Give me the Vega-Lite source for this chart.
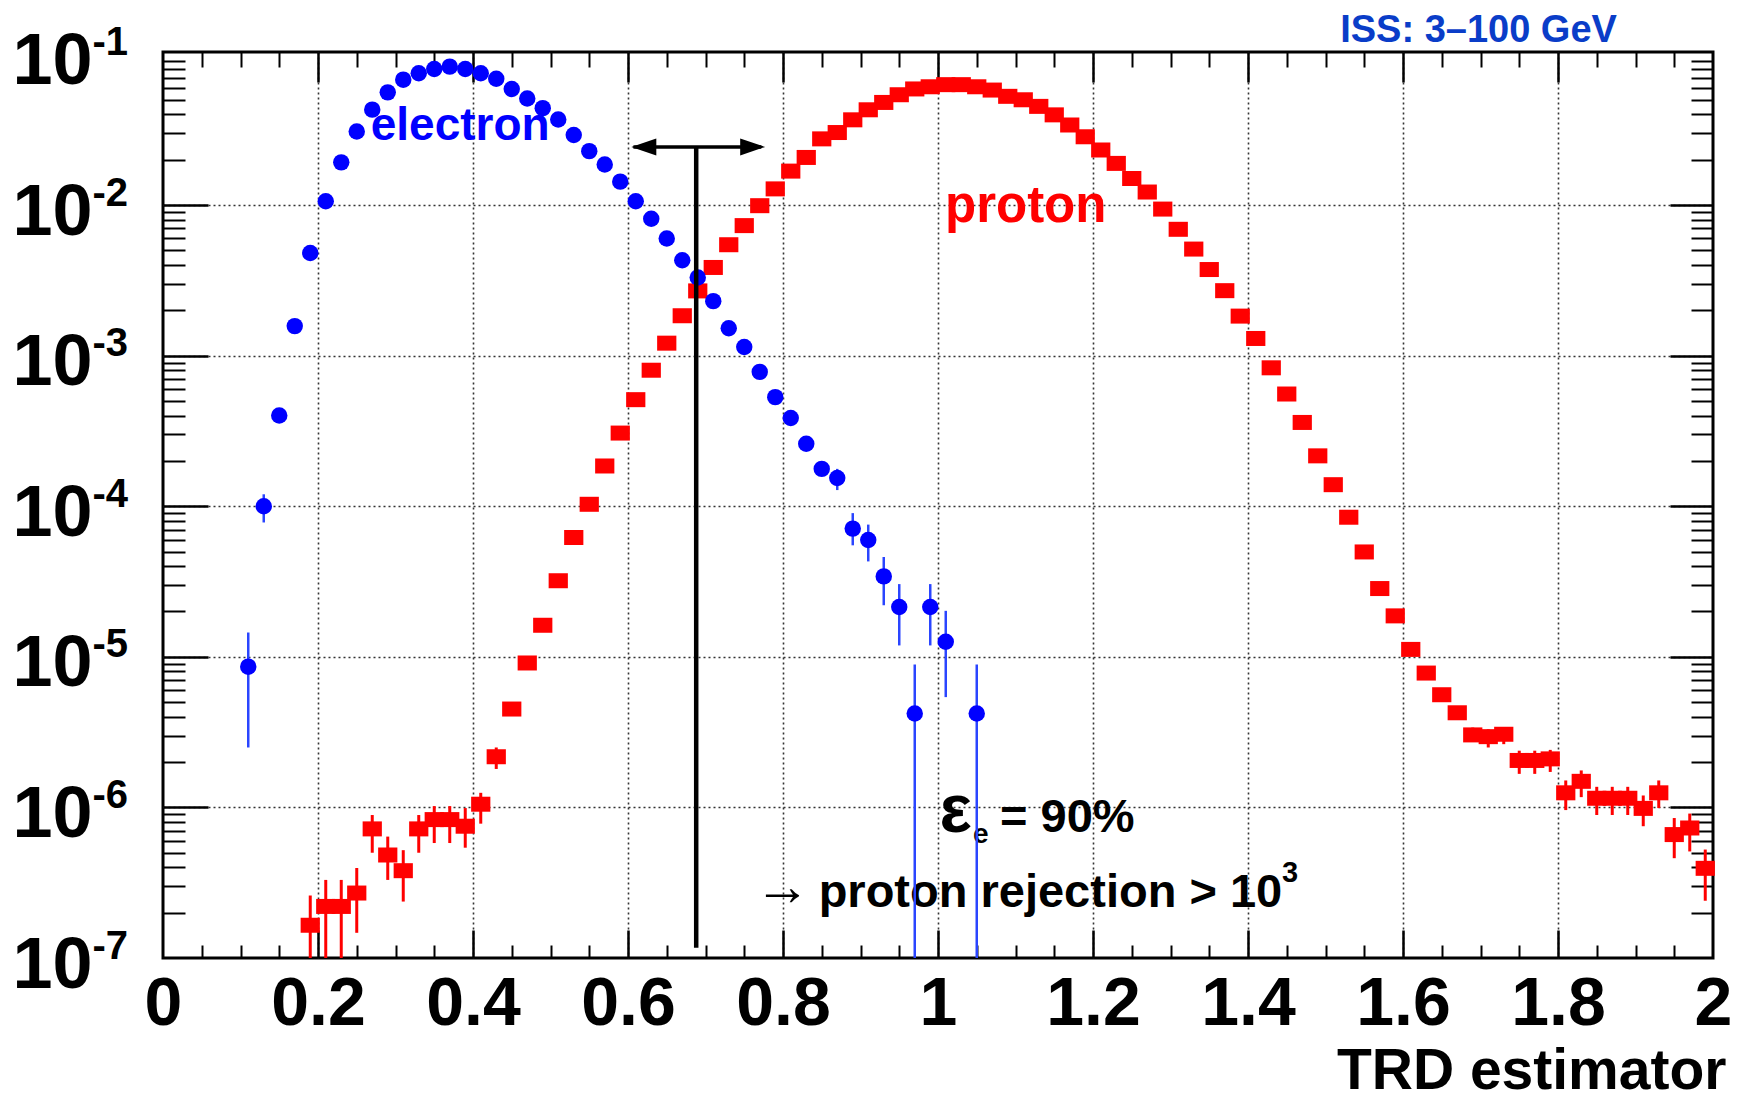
{
  "$schema": "https://vega.github.io/schema/vega-lite/v6.json",
  "width": 1550,
  "height": 906,
  "autosize": {"type": "none"},
  "padding": {"left": 163, "top": 52, "right": 24, "bottom": 143},
  "background": "white",
  "config": {
    "view": {"stroke": "black", "strokeWidth": 3},
    "font": "Liberation Sans",
    "axis": {"domain": false, "labelFont": "Liberation Sans", "titleFont": "Liberation Sans", "tickColor": "black", "tickWidth": 2.5, "tickCap": "butt", "grid": false}
  },
  "datasets": {
    "electron": [
      {"x": 0.11, "y": 8.6e-6, "lo": 2.5e-6, "hi": 1.45e-5},
      {"x": 0.13, "y": 1.0e-4, "lo": 7.8e-5, "hi": 1.2e-4},
      {"x": 0.15, "y": 4.0e-4},
      {"x": 0.17, "y": 1.57e-3},
      {"x": 0.19, "y": 4.8e-3},
      {"x": 0.21, "y": 1.06e-2},
      {"x": 0.23, "y": 1.92e-2},
      {"x": 0.25, "y": 3.08e-2},
      {"x": 0.27, "y": 4.3e-2},
      {"x": 0.29, "y": 5.6e-2},
      {"x": 0.31, "y": 6.8e-2},
      {"x": 0.33, "y": 7.5e-2},
      {"x": 0.35, "y": 8.0e-2},
      {"x": 0.37, "y": 8.3e-2},
      {"x": 0.39, "y": 8.0e-2},
      {"x": 0.41, "y": 7.5e-2},
      {"x": 0.43, "y": 6.9e-2},
      {"x": 0.45, "y": 5.9e-2},
      {"x": 0.47, "y": 5.1e-2},
      {"x": 0.49, "y": 4.4e-2},
      {"x": 0.51, "y": 3.7e-2},
      {"x": 0.53, "y": 2.92e-2},
      {"x": 0.55, "y": 2.28e-2},
      {"x": 0.57, "y": 1.86e-2},
      {"x": 0.59, "y": 1.43e-2},
      {"x": 0.61, "y": 1.06e-2},
      {"x": 0.63, "y": 8.1e-3},
      {"x": 0.65, "y": 6.0e-3},
      {"x": 0.67, "y": 4.3e-3},
      {"x": 0.69, "y": 3.3e-3},
      {"x": 0.71, "y": 2.3e-3},
      {"x": 0.73, "y": 1.52e-3},
      {"x": 0.75, "y": 1.14e-3},
      {"x": 0.77, "y": 7.8e-4},
      {"x": 0.79, "y": 5.3e-4},
      {"x": 0.81, "y": 3.85e-4},
      {"x": 0.83, "y": 2.6e-4},
      {"x": 0.85, "y": 1.77e-4},
      {"x": 0.87, "y": 1.54e-4, "lo": 1.28e-4, "hi": 1.77e-4},
      {"x": 0.89, "y": 7.1e-5, "lo": 5.5e-5, "hi": 9.0e-5},
      {"x": 0.91, "y": 5.97e-5, "lo": 4.3e-5, "hi": 7.55e-5},
      {"x": 0.93, "y": 3.42e-5, "lo": 2.2e-5, "hi": 4.6e-5},
      {"x": 0.95, "y": 2.14e-5, "lo": 1.19e-5, "hi": 3.04e-5},
      {"x": 0.97, "y": 4.2e-6, "lo": 1e-7, "hi": 8.9e-6},
      {"x": 0.99, "y": 2.14e-5, "lo": 1.19e-5, "hi": 3.04e-5},
      {"x": 1.01, "y": 1.26e-5, "lo": 5.4e-6, "hi": 2.02e-5},
      {"x": 1.05, "y": 4.2e-6, "lo": 1e-7, "hi": 8.9e-6}
    ],
    "proton": [
      {"x": 0.19, "y": 1.65e-7, "lo": 1e-7, "hi": 2.6e-7},
      {"x": 0.21, "y": 2.2e-7, "lo": 1e-7, "hi": 3.3e-7},
      {"x": 0.23, "y": 2.2e-7, "lo": 1e-7, "hi": 3.3e-7},
      {"x": 0.25, "y": 2.7e-7, "lo": 1.47e-7, "hi": 3.96e-7},
      {"x": 0.27, "y": 7.2e-7, "lo": 5.0e-7, "hi": 8.9e-7},
      {"x": 0.29, "y": 4.83e-7, "lo": 3.3e-7, "hi": 6.4e-7},
      {"x": 0.31, "y": 3.8e-7, "lo": 2.37e-7, "hi": 5.2e-7},
      {"x": 0.33, "y": 7.2e-7, "lo": 5.0e-7, "hi": 8.9e-7},
      {"x": 0.35, "y": 8.3e-7, "lo": 5.8e-7, "hi": 1.02e-6},
      {"x": 0.37, "y": 8.3e-7, "lo": 5.8e-7, "hi": 1.02e-6},
      {"x": 0.39, "y": 7.5e-7, "lo": 5.4e-7, "hi": 9.9e-7},
      {"x": 0.41, "y": 1.05e-6, "lo": 7.8e-7, "hi": 1.25e-6},
      {"x": 0.43, "y": 2.17e-6, "lo": 1.8e-6, "hi": 2.5e-6},
      {"x": 0.45, "y": 4.5e-6},
      {"x": 0.47, "y": 9.1e-6},
      {"x": 0.49, "y": 1.62e-5},
      {"x": 0.51, "y": 3.2e-5},
      {"x": 0.53, "y": 6.2e-5},
      {"x": 0.55, "y": 1.03e-4},
      {"x": 0.57, "y": 1.85e-4},
      {"x": 0.59, "y": 3.06e-4},
      {"x": 0.61, "y": 5.1e-4},
      {"x": 0.63, "y": 8.0e-4},
      {"x": 0.65, "y": 1.21e-3},
      {"x": 0.67, "y": 1.84e-3},
      {"x": 0.69, "y": 2.69e-3},
      {"x": 0.71, "y": 3.85e-3},
      {"x": 0.73, "y": 5.45e-3},
      {"x": 0.75, "y": 7.3e-3},
      {"x": 0.77, "y": 9.9e-3},
      {"x": 0.79, "y": 1.28e-2},
      {"x": 0.81, "y": 1.68e-2},
      {"x": 0.83, "y": 2.07e-2},
      {"x": 0.85, "y": 2.75e-2},
      {"x": 0.87, "y": 3.03e-2},
      {"x": 0.89, "y": 3.68e-2},
      {"x": 0.91, "y": 4.29e-2},
      {"x": 0.93, "y": 4.8e-2},
      {"x": 0.95, "y": 5.4e-2},
      {"x": 0.97, "y": 5.9e-2},
      {"x": 0.99, "y": 6.1e-2},
      {"x": 1.01, "y": 6.3e-2},
      {"x": 1.03, "y": 6.3e-2},
      {"x": 1.05, "y": 6.1e-2},
      {"x": 1.07, "y": 5.8e-2},
      {"x": 1.09, "y": 5.27e-2},
      {"x": 1.11, "y": 5.0e-2},
      {"x": 1.13, "y": 4.52e-2},
      {"x": 1.15, "y": 3.97e-2},
      {"x": 1.17, "y": 3.4e-2},
      {"x": 1.19, "y": 2.84e-2},
      {"x": 1.21, "y": 2.32e-2},
      {"x": 1.23, "y": 1.89e-2},
      {"x": 1.25, "y": 1.5e-2},
      {"x": 1.27, "y": 1.22e-2},
      {"x": 1.29, "y": 9.4e-3},
      {"x": 1.31, "y": 6.9e-3},
      {"x": 1.33, "y": 5.1e-3},
      {"x": 1.35, "y": 3.73e-3},
      {"x": 1.37, "y": 2.7e-3},
      {"x": 1.39, "y": 1.83e-3},
      {"x": 1.41, "y": 1.3e-3},
      {"x": 1.43, "y": 8.3e-4},
      {"x": 1.45, "y": 5.56e-4},
      {"x": 1.47, "y": 3.6e-4},
      {"x": 1.49, "y": 2.16e-4},
      {"x": 1.51, "y": 1.39e-4},
      {"x": 1.53, "y": 8.45e-5},
      {"x": 1.55, "y": 4.97e-5},
      {"x": 1.57, "y": 2.84e-5},
      {"x": 1.59, "y": 1.87e-5},
      {"x": 1.61, "y": 1.12e-5},
      {"x": 1.63, "y": 7.8e-6},
      {"x": 1.65, "y": 5.6e-6},
      {"x": 1.67, "y": 4.25e-6},
      {"x": 1.69, "y": 3.03e-6, "lo": 2.77e-6, "hi": 3.39e-6},
      {"x": 1.71, "y": 2.95e-6, "lo": 2.5e-6, "hi": 3.3e-6},
      {"x": 1.73, "y": 3.06e-6, "lo": 2.63e-6, "hi": 3.39e-6},
      {"x": 1.75, "y": 2.05e-6, "lo": 1.67e-6, "hi": 2.38e-6},
      {"x": 1.77, "y": 2.05e-6, "lo": 1.67e-6, "hi": 2.38e-6},
      {"x": 1.79, "y": 2.1e-6, "lo": 1.72e-6, "hi": 2.41e-6},
      {"x": 1.81, "y": 1.25e-6, "lo": 9.6e-7, "hi": 1.51e-6},
      {"x": 1.83, "y": 1.49e-6, "lo": 1.17e-6, "hi": 1.76e-6},
      {"x": 1.85, "y": 1.15e-6, "lo": 8.9e-7, "hi": 1.37e-6},
      {"x": 1.87, "y": 1.15e-6, "lo": 8.9e-7, "hi": 1.37e-6},
      {"x": 1.89, "y": 1.15e-6, "lo": 8.9e-7, "hi": 1.37e-6},
      {"x": 1.91, "y": 9.85e-7, "lo": 7.5e-7, "hi": 1.2e-6},
      {"x": 1.93, "y": 1.25e-6, "lo": 9.9e-7, "hi": 1.51e-6},
      {"x": 1.95, "y": 6.6e-7, "lo": 4.6e-7, "hi": 8.5e-7},
      {"x": 1.97, "y": 7.3e-7, "lo": 5.1e-7, "hi": 9.1e-7},
      {"x": 1.99, "y": 3.94e-7, "lo": 2.4e-7, "hi": 5.25e-7}
    ]
  },
  "resolve": {"axis": {"x": "independent", "y": "independent"}},
  "layer": [
    {
      "data": {"values": [{"x": 1.876, "y": 0.1208, "label": "ISS: 3–100 GeV"}]},
      "mark": {"type": "text", "align": "right", "baseline": "alphabetic", "fontSize": 38, "fontWeight": "bold", "color": "#0a3dc8", "font": "Liberation Sans", "clip": false},
      "encoding": {
        "x": {"field": "x", "type": "quantitative", "axis": null, "scale": {"domain": [0, 2], "nice": false, "zero": false}},
        "y": {"field": "y", "type": "quantitative", "axis": null, "scale": {"type": "log", "domain": [1e-7, 0.1038], "nice": false}},
        "text": {"field": "label"}
      }
    },
    {
      "data": {"values": [{"x": 1.002, "y": 6.9e-7, "label": "ε"}]},
      "mark": {"type": "text", "align": "left", "baseline": "alphabetic", "fontSize": 68, "fontWeight": "bold", "color": "black", "font": "Liberation Sans"},
      "encoding": {
        "x": {"field": "x", "type": "quantitative", "axis": null, "scale": {"domain": [0, 2], "nice": false, "zero": false}},
        "y": {"field": "y", "type": "quantitative", "axis": null, "scale": {"type": "log", "domain": [1e-7, 0.1038], "nice": false}},
        "text": {"field": "label"}
      }
    },
    {
      "data": {"values": [{"x": 1.045, "y": 5.8e-7, "label": "e"}]},
      "mark": {"type": "text", "align": "left", "baseline": "alphabetic", "fontSize": 28, "fontWeight": "bold", "color": "black", "font": "Liberation Sans"},
      "encoding": {
        "x": {"field": "x", "type": "quantitative", "axis": null, "scale": {"domain": [0, 2], "nice": false, "zero": false}},
        "y": {"field": "y", "type": "quantitative", "axis": null, "scale": {"type": "log", "domain": [1e-7, 0.1038], "nice": false}},
        "text": {"field": "label"}
      }
    },
    {
      "data": {"values": [{"x": 1.08, "y": 6.87e-7, "label": "= 90%"}]},
      "mark": {"type": "text", "align": "left", "baseline": "alphabetic", "fontSize": 47, "fontWeight": "bold", "color": "black", "font": "Liberation Sans"},
      "encoding": {
        "x": {"field": "x", "type": "quantitative", "axis": null, "scale": {"domain": [0, 2], "nice": false, "zero": false}},
        "y": {"field": "y", "type": "quantitative", "axis": null, "scale": {"type": "log", "domain": [1e-7, 0.1038], "nice": false}},
        "text": {"field": "label"}
      }
    },
    {
      "data": {"values": [{"x": 0.763, "y": 2.9e-7, "label": "→"}]},
      "mark": {"type": "text", "align": "left", "baseline": "middle", "fontSize": 56, "fontWeight": "normal", "color": "black", "font": "Liberation Sans"},
      "encoding": {
        "x": {"field": "x", "type": "quantitative", "axis": null, "scale": {"domain": [0, 2], "nice": false, "zero": false}},
        "y": {"field": "y", "type": "quantitative", "axis": null, "scale": {"type": "log", "domain": [1e-7, 0.1038], "nice": false}},
        "text": {"field": "label"}
      }
    },
    {
      "data": {"values": [{"x": 0.846, "y": 2.19e-7, "label": "proton rejection > 10"}]},
      "mark": {"type": "text", "align": "left", "baseline": "alphabetic", "fontSize": 47, "fontWeight": "bold", "color": "black", "font": "Liberation Sans"},
      "encoding": {
        "x": {"field": "x", "type": "quantitative", "axis": null, "scale": {"domain": [0, 2], "nice": false, "zero": false}},
        "y": {"field": "y", "type": "quantitative", "axis": null, "scale": {"type": "log", "domain": [1e-7, 0.1038], "nice": false}},
        "text": {"field": "label"}
      }
    },
    {
      "data": {"values": [{"x": 1.444, "y": 3.2e-7, "label": "3"}]},
      "mark": {"type": "text", "align": "left", "baseline": "alphabetic", "fontSize": 29, "fontWeight": "bold", "color": "black", "font": "Liberation Sans"},
      "encoding": {
        "x": {"field": "x", "type": "quantitative", "axis": null, "scale": {"domain": [0, 2], "nice": false, "zero": false}},
        "y": {"field": "y", "type": "quantitative", "axis": null, "scale": {"type": "log", "domain": [1e-7, 0.1038], "nice": false}},
        "text": {"field": "label"}
      }
    },
    {
      "data": {"name": "proton"},
      "transform": [{"filter": "isValid(datum.hi)"}],
      "mark": {"type": "rule", "color": "#ff0000", "strokeWidth": 3},
      "encoding": {
        "x": {"field": "x", "type": "quantitative", "scale": {"domain": [0, 2], "nice": false, "zero": false},
          "axis": {"orient": "bottom", "values": [0, 0.2, 0.4, 0.6, 0.8, 1, 1.2, 1.4, 1.6, 1.8, 2], "labelExpr": "format(datum.value, '~g')", "labelFontSize": 68, "labelFontWeight": "bold", "labelColor": "black", "labelPadding": 12, "labelFlush": false, "labelOverlap": false, "ticks": false, "grid": false,
            "title": "TRD estimator", "titleFontSize": 57, "titleFontWeight": "bold", "titleColor": "black", "titleX": 1563, "titleY": 130, "titleAlign": "right", "titleAnchor": "end", "titleBaseline": "alphabetic", "titleAngle": 0}},
        "y": {"field": "lo", "type": "quantitative", "scale": {"type": "log", "domain": [1e-7, 0.1038], "nice": false},
          "axis": {"orient": "left", "values": [1e-7, 1e-6, 1e-5, 1e-4, 1e-3, 1e-2, 1e-1], "labelExpr": "'10'", "labelFontSize": 72, "labelFontWeight": "bold", "labelColor": "black", "labelPadding": 71, "labelAlign": "right", "labelBaseline": "middle", "labelOffset": 7, "labelOverlap": false, "labelFlush": false, "ticks": false, "grid": false, "title": null}},
        "y2": {"field": "hi"}
      }
    },
    {
      "data": {"name": "proton"},
      "mark": {"type": "point", "filled": true, "opacity": 1, "color": "#ff0000", "shape": "M-1,-0.78L1,-0.78L1,0.78L-1,0.78Z", "size": 370},
      "encoding": {
        "x": {"field": "x", "type": "quantitative", "scale": {"domain": [0, 2], "nice": false, "zero": false},
          "axis": {"orient": "bottom", "values": [0.2, 0.4, 0.6, 0.8, 1, 1.2, 1.4, 1.6, 1.8], "labels": false, "ticks": true, "tickSize": -28, "grid": true, "gridColor": "#333333", "gridDash": [2, 3], "gridWidth": 1.6, "title": null}},
        "y": {"field": "y", "type": "quantitative", "scale": {"type": "log", "domain": [1e-7, 0.1038], "nice": false},
          "axis": {"orient": "left", "values": [1e-7, 1e-6, 1e-5, 1e-4, 1e-3, 1e-2, 1e-1], "labelExpr": "'-' + round(-log(datum.value) / LN10)", "labelFontSize": 40, "labelFontWeight": "bold", "labelColor": "black", "labelAlign": "left", "labelBaseline": "middle", "labelPadding": 71, "labelOffset": -12, "labelOverlap": false, "labelFlush": false, "ticks": false, "grid": false, "title": null}}
      }
    },
    {
      "data": {"name": "electron"},
      "transform": [{"filter": "isValid(datum.hi)"}],
      "mark": {"type": "rule", "color": "#2a45ff", "strokeWidth": 2.5},
      "encoding": {
        "x": {"field": "x", "type": "quantitative", "scale": {"domain": [0, 2], "nice": false, "zero": false},
          "axis": {"orient": "bottom", "values": [0.05, 0.1, 0.15, 0.25, 0.3, 0.35, 0.45, 0.5, 0.55, 0.65, 0.7, 0.75, 0.85, 0.9, 0.95, 1.05, 1.1, 1.15, 1.25, 1.3, 1.35, 1.45, 1.5, 1.55, 1.65, 1.7, 1.75, 1.85, 1.9, 1.95], "labels": false, "ticks": true, "tickSize": -13, "tickWidth": 2, "grid": false, "title": null}},
        "y": {"field": "lo", "type": "quantitative", "scale": {"type": "log", "domain": [1e-7, 0.1038], "nice": false},
          "axis": {"orient": "left", "values": [1e-6, 1e-5, 1e-4, 1e-3, 1e-2], "labels": false, "ticks": true, "tickSize": -45, "grid": true, "gridColor": "#333333", "gridDash": [2, 3], "gridWidth": 1.6, "title": null}},
        "y2": {"field": "hi"}
      }
    },
    {
      "data": {"name": "electron"},
      "mark": {"type": "point", "filled": true, "opacity": 1, "color": "#0000ff", "shape": "circle", "size": 270},
      "encoding": {
        "x": {"field": "x", "type": "quantitative", "scale": {"domain": [0, 2], "nice": false, "zero": false},
          "axis": {"orient": "top", "values": [0.2, 0.4, 0.6, 0.8, 1, 1.2, 1.4, 1.6, 1.8], "labels": false, "ticks": true, "tickSize": -30, "grid": false, "title": null}},
        "y": {"field": "y", "type": "quantitative", "scale": {"type": "log", "domain": [1e-7, 0.1038], "nice": false},
          "axis": {"orient": "left", "values": [2e-7, 3e-7, 4e-7, 5e-7, 6e-7, 7e-7, 8e-7, 9e-7, 2e-6, 3e-6, 4e-6, 5e-6, 6e-6, 7e-6, 8e-6, 9e-6, 2e-5, 3e-5, 4e-5, 5e-5, 6e-5, 7e-5, 8e-5, 9e-5, 2e-4, 3e-4, 4e-4, 5e-4, 6e-4, 7e-4, 8e-4, 9e-4, 2e-3, 3e-3, 4e-3, 5e-3, 6e-3, 7e-3, 8e-3, 9e-3, 2e-2, 3e-2, 4e-2, 5e-2, 6e-2, 7e-2, 8e-2, 9e-2], "labels": false, "ticks": true, "tickSize": -22, "tickWidth": 2, "grid": false, "title": null}}
      }
    },
    {
      "data": {"values": [{"x": 0.688, "y": 0.0243, "y2": 1.17e-7}]},
      "mark": {"type": "rule", "color": "black", "strokeWidth": 4.5},
      "encoding": {
        "x": {"field": "x", "type": "quantitative", "scale": {"domain": [0, 2], "nice": false, "zero": false},
          "axis": {"orient": "top", "values": [0.05, 0.1, 0.15, 0.25, 0.3, 0.35, 0.45, 0.5, 0.55, 0.65, 0.7, 0.75, 0.85, 0.9, 0.95, 1.05, 1.1, 1.15, 1.25, 1.3, 1.35, 1.45, 1.5, 1.55, 1.65, 1.7, 1.75, 1.85, 1.9, 1.95], "labels": false, "ticks": true, "tickSize": -15, "tickWidth": 2, "grid": false, "title": null}},
        "y": {"field": "y", "type": "quantitative", "scale": {"type": "log", "domain": [1e-7, 0.1038], "nice": false},
          "axis": {"orient": "right", "values": [1e-6, 1e-5, 1e-4, 1e-3, 1e-2], "labels": false, "ticks": true, "tickSize": -43, "grid": false, "title": null}},
        "y2": {"field": "y2"}
      }
    },
    {
      "data": {"values": [{"x": 0.607, "x2": 0.772, "y": 0.0243}]},
      "mark": {"type": "rule", "color": "black", "strokeWidth": 3.5},
      "encoding": {
        "x": {"field": "x", "type": "quantitative", "axis": null, "scale": {"domain": [0, 2], "nice": false, "zero": false}},
        "x2": {"field": "x2"},
        "y": {"field": "y", "type": "quantitative", "scale": {"type": "log", "domain": [1e-7, 0.1038], "nice": false},
          "axis": {"orient": "right", "values": [2e-7, 3e-7, 4e-7, 5e-7, 6e-7, 7e-7, 8e-7, 9e-7, 2e-6, 3e-6, 4e-6, 5e-6, 6e-6, 7e-6, 8e-6, 9e-6, 2e-5, 3e-5, 4e-5, 5e-5, 6e-5, 7e-5, 8e-5, 9e-5, 2e-4, 3e-4, 4e-4, 5e-4, 6e-4, 7e-4, 8e-4, 9e-4, 2e-3, 3e-3, 4e-3, 5e-3, 6e-3, 7e-3, 8e-3, 9e-3, 2e-2, 3e-2, 4e-2, 5e-2, 6e-2, 7e-2, 8e-2, 9e-2], "labels": false, "ticks": true, "tickSize": -22, "tickWidth": 2, "grid": false, "title": null}}
      }
    },
    {
      "data": {"values": [{"x": 0.6204, "y": 0.0243, "dir": "left"}, {"x": 0.7609, "y": 0.0243, "dir": "right"}]},
      "mark": {"type": "point", "filled": true, "opacity": 1, "color": "black", "size": 625},
      "encoding": {
        "x": {"field": "x", "type": "quantitative", "axis": null, "scale": {"domain": [0, 2], "nice": false, "zero": false}},
        "y": {"field": "y", "type": "quantitative", "axis": null, "scale": {"type": "log", "domain": [1e-7, 0.1038], "nice": false}},
        "shape": {"field": "dir", "type": "nominal", "legend": null, "scale": {"domain": ["left", "right"], "range": ["M-1,0L1,-0.68L1,0.68Z", "M1,0L-1,-0.68L-1,0.68Z"]}}
      }
    },
    {
      "data": {"values": [{"x": 0.268, "y": 0.027, "label": "electron"}]},
      "mark": {"type": "text", "align": "left", "baseline": "alphabetic", "fontSize": 46, "fontWeight": "bold", "color": "#0000ff", "font": "Liberation Sans"},
      "encoding": {
        "x": {"field": "x", "type": "quantitative", "axis": null, "scale": {"domain": [0, 2], "nice": false, "zero": false}},
        "y": {"field": "y", "type": "quantitative", "axis": null, "scale": {"type": "log", "domain": [1e-7, 0.1038], "nice": false}},
        "text": {"field": "label"}
      }
    },
    {
      "data": {"values": [{"x": 1.009, "y": 0.0077, "label": "proton"}]},
      "mark": {"type": "text", "align": "left", "baseline": "alphabetic", "fontSize": 51, "fontWeight": "bold", "color": "#ff0000", "font": "Liberation Sans"},
      "encoding": {
        "x": {"field": "x", "type": "quantitative", "axis": null, "scale": {"domain": [0, 2], "nice": false, "zero": false}},
        "y": {"field": "y", "type": "quantitative", "axis": null, "scale": {"type": "log", "domain": [1e-7, 0.1038], "nice": false}},
        "text": {"field": "label"}
      }
    }
  ]
}
